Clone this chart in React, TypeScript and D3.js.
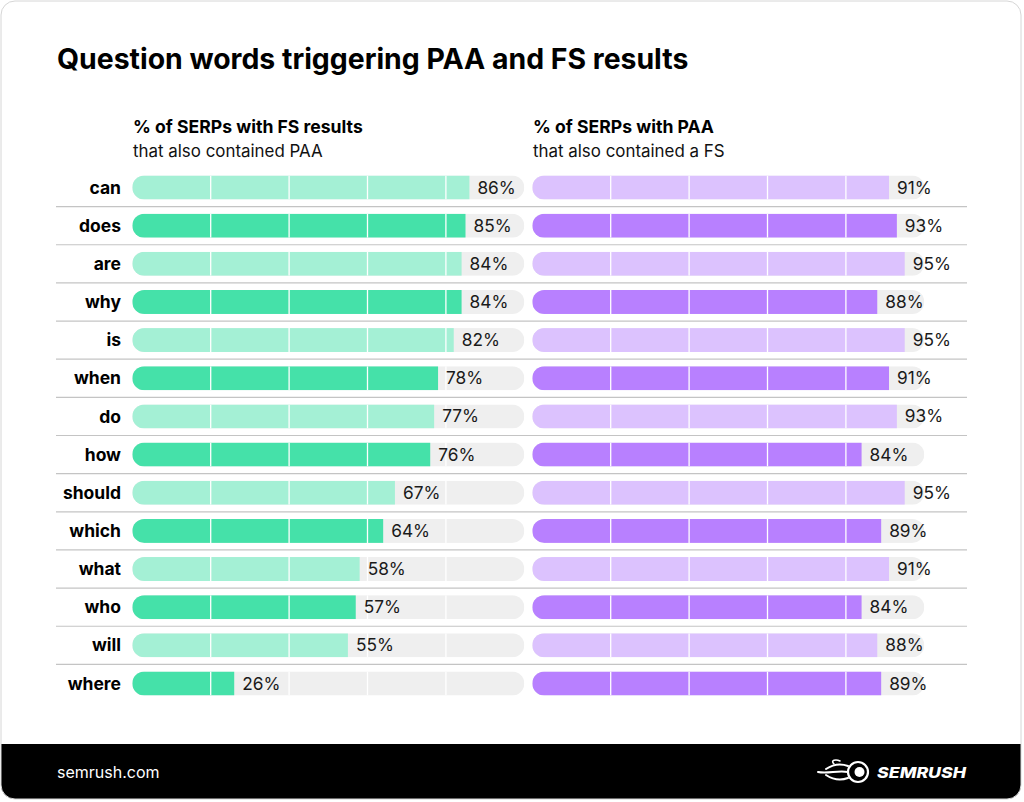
import React from "react";
import * as d3 from "d3";

const words = ["can", "does", "are", "why", "is", "when", "do", "how", "should", "which", "what", "who", "will", "where"];
const fsWithPaa = [86, 85, 84, 84, 82, 78, 77, 76, 67, 64, 58, 57, 55, 26];
const paaWithFs = [91, 93, 95, 88, 95, 91, 93, 84, 95, 89, 91, 84, 88, 89];
const gridTicks = [20, 40, 60, 80];

const W = 1024;
const H = 802;
const FONT = "Inter, 'Noto Sans', sans-serif";

const panels = [
  { x0: 132.3, values: fsWithPaa, light: "#a4f0d5", dark: "#45e1a9", head1: "% of SERPs with FS results", head2: "that also contained PAA" },
  { x0: 532.3, values: paaWithFs, light: "#dcc2fe", dark: "#b880ff", head1: "% of SERPs with PAA", head2: "that also contained a FS" },
];

export default function App() {
  const y = d3.scalePoint<string>().domain(words).range([187.5, 683.5]);
  const x = d3.scaleLinear().domain([0, 100]).range([0, 392]);
  const barH = 24;
  const trackW = 392;
  const step = y.step();

  return (
    <svg width={W} height={H} viewBox={`0 0 ${W} ${H}`} style={{ position: "absolute", left: 0, top: 0, fontFamily: FONT }}>
      <defs>
        <clipPath id="card">
          <rect x={1} y={1} width={1020} height={798} rx={14} />
        </clipPath>
        {panels.map((p, pi) =>
          words.map((w, i) => (
            <clipPath id={`clip-${pi}-${i}`} key={`${pi}-${i}`}>
              <rect x={p.x0} y={(y(w) as number) - barH / 2} width={trackW} height={barH} rx={barH / 2} />
            </clipPath>
          ))
        )}
      </defs>
      <g clipPath="url(#card)">
        <rect x={0} y={0} width={W} height={H} fill="#ffffff" />
        <rect x={0} y={744} width={W} height={60} fill="#000000" />
      </g>
      <rect x={1} y={1} width={1020} height={798} rx={14} fill="none" stroke="#d6d6d6" strokeWidth={1} />

      <text x={57} y={69} fontSize={28.4} fontWeight={700} fill="#000">
        Question words triggering PAA and FS results
      </text>

      {panels.map((p, pi) => (
        <g key={`h${pi}`}>
          <text x={p.x0 + 0.7} y={133} fontSize={17.6} fontWeight={700} fill="#000">{p.head1}</text>
          <text x={p.x0 + 0.7} y={157} fontSize={16.9} fontWeight={400} fill="#111">{p.head2}</text>
        </g>
      ))}

      {words.slice(0, -1).map((w) => (
        <line key={`sep-${w}`} x1={56} x2={967} y1={(y(w) as number) + step / 2} y2={(y(w) as number) + step / 2} stroke="#c4c4c4" strokeWidth={1.2} />
      ))}

      {words.map((w) => (
        <text key={`lbl-${w}`} x={121} y={y(w) as number} dy="0.35em" textAnchor="end" fontSize={17.5} fontWeight={700} fill="#000">
          {w}
        </text>
      ))}

      {panels.map((p, pi) =>
        words.map((w, i) => {
          const cy = y(w) as number;
          const v = p.values[i];
          const color = i % 2 === 0 ? p.light : p.dark;
          return (
            <g key={`bar-${pi}-${i}`}>
              <g clipPath={`url(#clip-${pi}-${i})`}>
                <rect x={p.x0} y={cy - barH / 2} width={trackW} height={barH} fill="#efefef" />
                <rect x={p.x0} y={cy - barH / 2} width={x(v)} height={barH} fill={color} />
                {gridTicks.map((t) => (
                  <line key={t} x1={p.x0 + x(t)} x2={p.x0 + x(t)} y1={cy - barH / 2} y2={cy + barH / 2} stroke="#ffffff" strokeWidth={1.3} />
                ))}
              </g>
              <text x={p.x0 + x(v) + 8} y={cy} dy="0.35em" fontSize={17.3} fontWeight={400} fill="#1a1a1a">
                {`${v}%`}
              </text>
            </g>
          );
        })
      )}

      <text x={57} y={778} fontSize={16} fill="#ffffff">semrush.com</text>

      <g transform="translate(858,772)" fill="none" stroke="#ffffff">
        <circle r={10} strokeWidth={2.2} />
        <circle cx={1.5} r={5} fill="#ffffff" stroke="none" />
        <path d="M-10,-6 C-18,-9 -26,-7 -32,-3" strokeWidth={2} strokeLinecap="round" />
        <path d="M-10,0 C-20,-2 -30,2 -40,0" strokeWidth={2} strokeLinecap="round" />
        <path d="M-10,6 C-18,9 -26,7 -32,3" strokeWidth={2} strokeLinecap="round" />
        <path d="M-24,-8 C-28,-12 -22,-13 -18,-11" strokeWidth={1.6} strokeLinecap="round" />
      </g>
      <text x={877} y={777.5} fontSize={15} fontWeight={800} fontStyle="italic" fill="#ffffff" textLength={89} lengthAdjust="spacingAndGlyphs">
        SEMRUSH
      </text>
    </svg>
  );
}
